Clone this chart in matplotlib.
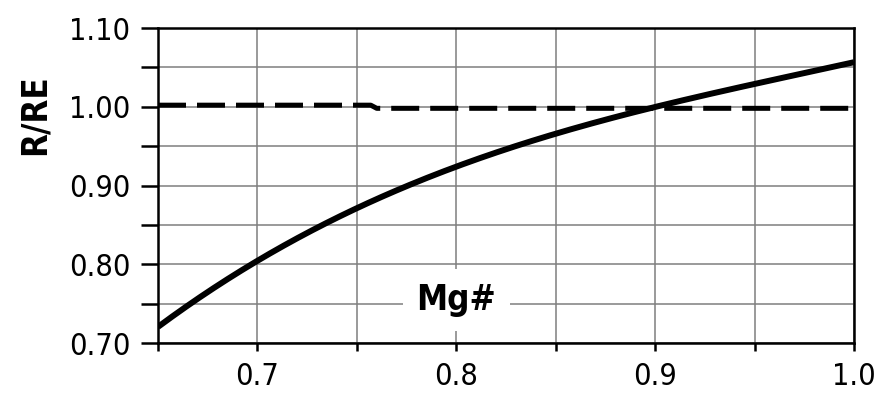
import matplotlib
matplotlib.use("Agg")
import matplotlib.pyplot as plt
from matplotlib import font_manager
import numpy as np

# Data
mg_number = [0.65, 0.70, 0.75, 0.80, 0.85, 0.90, 0.95, 1.00]
r_over_re = [0.720, 0.805, 0.872, 0.923, 0.965, 1.000, 1.030, 1.056]
ref_x = [0.65, 0.757, 0.760, 1.00]
ref_y = [1.002, 1.002, 0.998, 0.998]

x_ticks = [0.7, 0.8, 0.9, 1.0]
x_tick_labels = ["0.7", "0.8", "0.9", "1.0"]
y_ticks = [0.70, 0.80, 0.90, 1.00, 1.10]
y_tick_labels = ["0.70", "0.80", "0.90", "1.00", "1.10"]

fonts = font_manager.fontManager.ttflist
names = {f.name for f in fonts}
cond = [f for f in fonts if f.stretch in ("condensed", 'semi-condensed', 'extra-condensed') or
        (isinstance(f.stretch, int) and f.stretch < 500)]
if "Liberation Sans Narrow" in names:
    fam, stretch = "Liberation Sans Narrow", "normal"
elif any(f.name == "DejaVu Sans" for f in cond):
    fam, stretch = "DejaVu Sans", "condensed"
else:
    fam, stretch = "DejaVu Sans", "normal"

fig = plt.figure(figsize=(8.89, 3.98), dpi=100)
ax = fig.add_axes([158/889, 1-343/398, (854-158)/889, (343-28)/398])

xs = np.linspace(0.65, 1.0, 200)
coef = np.polyfit(mg_number, r_over_re, 3)
ax.plot(xs, np.polyval(coef, xs), color="black", lw=4.3, solid_capstyle="butt", zorder=3)
ax.plot(ref_x, ref_y, color="black", lw=3.6, dashes=(5.6, 2.2), zorder=3)

ax.set_xlim(0.65, 1.0)
ax.set_ylim(0.70, 1.10)
ax.set_xticks(np.arange(0.65, 1.0001, 0.05), minor=True)
ax.set_yticks(np.arange(0.70, 1.1001, 0.05), minor=True)
ax.set_xticks(x_ticks)
ax.set_xticklabels(x_tick_labels)
ax.set_yticks(y_ticks)
ax.set_yticklabels(y_tick_labels)

ax.grid(True, which="both", color="#7f7f7f", lw=1.1, zorder=0)
ax.set_axisbelow(True)
for s in ax.spines.values():
    s.set_linewidth(1.8)
    s.set_color("black")

ax.tick_params(axis="y", which="both", direction="out", length=12, width=1.8, pad=8,
               labelsize=22)
ax.tick_params(axis="x", which="both", direction="out", length=6, width=1.8, pad=8,
               labelsize=22)
for lab in ax.get_xticklabels() + ax.get_yticklabels():
    lab.set_fontfamily(fam)
    lab.set_fontstretch(stretch)

ax.text(0.80, 0.755, "Mg#", fontsize=25, fontweight="bold", family=fam,
        fontstretch=stretch, ha="center", va="center", zorder=4,
        bbox=dict(facecolor="white", edgecolor="none", pad=10))

fig.text(35/889, 1-115/398, "R/RE", fontsize=25, fontweight="bold", family=fam,
         fontstretch=stretch, rotation=90, ha="center", va="center")

fig.savefig("out.png", dpi=100)
